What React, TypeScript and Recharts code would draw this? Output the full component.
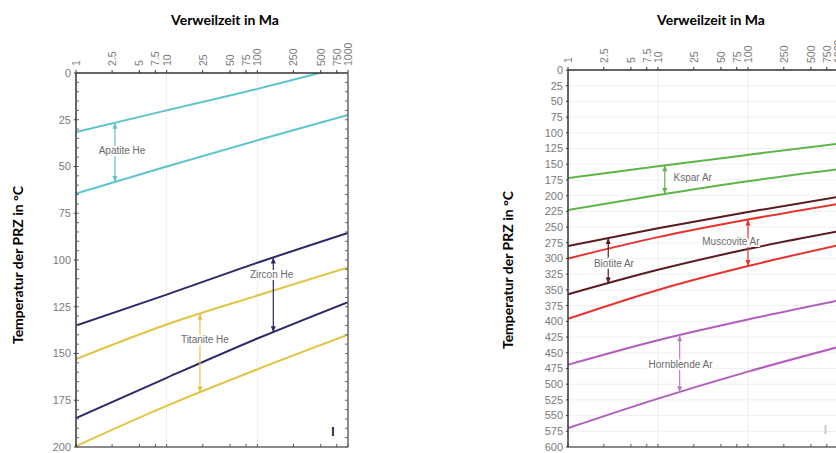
import React from 'react';
import { LineChart, Line, XAxis, YAxis, CartesianGrid, ReferenceDot, ReferenceLine } from 'recharts';

// ---------- shared axis data ----------
const durationTicks = [1, 2.5, 5, 7.5, 10, 25, 50, 75, 100, 250, 500, 750, 1000];
const durations = [1, 10, 100, 1000];

// ---------- left panel (He) ----------
const leftTempTicks = [0, 25, 50, 75, 100, 125, 150, 175, 200];
const leftMinorTicks = [0, 5, 10, 15, 20, 25, 30, 35, 40, 45, 50, 55, 60, 65, 70, 75, 80, 85, 90, 95, 100,
  105, 110, 115, 120, 125, 130, 135, 140, 145, 150, 155, 160, 165, 170, 175, 180, 185, 190, 195, 200];
const apatiteUpper = [31.5, 20, 8.5, -4];
const apatiteLower = [64.5, 50, 36, 22.5];
const zirconUpper = [135, 118.5, 101.5, 85.5];
const zirconLower = [184.5, 163, 142, 122.5];
const titaniteUpper = [153, 134.5, 119, 104];
const titaniteLower = [199.5, 178, 158.5, 140];

const leftNames = ['Apatite He', 'Zircon He', 'Titanite He'];
const leftColors = ['#5cc4cf', '#2b2a6b', '#e2c443'];
const leftArrowX = [2.69, 150, 23.3];
const leftArrowTop = [26.6, 98.7, 128.8];
const leftArrowBottom = [58.3, 138.6, 170.8];
const leftLabelX = [3.22, 143.8, 26.4];
const leftLabelT = [41.2, 107.7, 142.5];

// ---------- right panel (Ar) ----------
const rightTempTicks = [0, 25, 50, 75, 100, 125, 150, 175, 200, 225, 250, 275, 300, 325, 350, 375, 400,
  425, 450, 475, 500, 525, 550, 575, 600];
const ksparUpper = [172, 153, 135, 117.5];
const ksparLower = [223, 199, 177, 158];
const biotiteUpper = [280, 252, 226, 202];
const biotiteLower = [357, 318, 285, 257];
const muscoviteUpper = [300, 266, 238, 213];
const muscoviteLower = [396, 350, 312, 279];
const hornblendeUpper = [469, 430, 397, 367];
const hornblendeLower = [570, 523, 480, 441];

const rightNames = ['Kspar Ar', 'Biotite Ar', 'Muscovite Ar', 'Hornblende Ar'];
const rightColors = ['#5fb547', '#5a1b20', '#e6332f', '#b45cc0'];
const rightArrowColors = ['#5fb547', '#5a1b20', '#e6332f', '#b77fc4'];
const rightArrowX = [11.9, 2.8, 100, 17.4];
const rightArrowTop = [151.6, 267.5, 238, 422];
const rightArrowBottom = [197.3, 339.6, 312, 512.7];
const rightLabelX = [14.9, 3.24, 64.6, 17.8];
const rightLabelT = [171.4, 308.4, 273, 468.7];
const rightLabelAnchor = ['start', 'middle', 'middle', 'middle'];

const frameLeft = [{ x: 1, t: 0 }, { x: 1000, t: 200 }];
const frameRight = [{ x: 1, t: 0 }, { x: 1000, t: 600 }];

const toSeries = (vals: number[]) => durations.map((x, i) => ({ x, t: vals[i] }));

const TICK_FONT = "'Liberation Sans', Arial, sans-serif";

const TopTick = (props: any) => {
  const { x, y, payload } = props;
  return (
    <text
      x={0}
      y={0}
      transform={`translate(${x},${y}) rotate(-90)`}
      textAnchor="start"
      dominantBaseline="central"
      fontSize={10.5}
      fill="#7a7a7a"
      fontFamily={TICK_FONT}
    >
      {payload.value}
    </text>
  );
};

const EmptyTick = () => <g />;

const arrowHead = (color: string) => (props: any) => {
  const { cx, cy, index } = props;
  if (cx == null || cy == null) return <g key={`n${index}`} />;
  const dir = index === 0 ? 1 : -1;
  return (
    <polygon
      key={`a${index}`}
      points={`${cx},${cy} ${cx - 2.5},${cy + 6 * dir} ${cx + 2.5},${cy + 6 * dir}`}
      fill={color}
    />
  );
};

const labelShape = (text: string, anchor: string) => (props: any) => (
  <text
    x={props.cx}
    y={props.cy}
    textAnchor={anchor as any}
    dominantBaseline="central"
    fontSize={10}
    fill="#6a6a6a"
    fontFamily={TICK_FONT}
    stroke="#ffffff"
    strokeWidth={4}
    paintOrder="stroke"
  >
    {text}
  </text>
);

const markShape = (color: string) => (props: any) => (
  <text
    x={props.cx}
    y={props.cy}
    textAnchor="middle"
    dominantBaseline="central"
    fontSize={12}
    fontWeight="bold"
    fill={color}
    fontFamily={TICK_FONT}
  >
    I
  </text>
);

const titleStyle: React.CSSProperties = {
  position: 'absolute',
  fontFamily: "Lato, 'Open Sans', sans-serif",
  fontWeight: 'bold',
  fontSize: 14,
  color: '#000',
  whiteSpace: 'nowrap',
  transform: 'translate(-50%, -50%)',
};

const yLabelStyle: React.CSSProperties = {
  ...titleStyle,
  transform: 'translate(-50%, -50%) rotate(-90deg)',
};

const LeftPanel = () => (
  <LineChart width={418} height={453} margin={{ top: 33, right: 70, bottom: 6, left: 46 }}>
    <XAxis
      dataKey="x"
      type="number"
      scale="log"
      domain={[1, 1000]}
      allowDataOverflow
      orientation="top"
      ticks={durationTicks}
      interval={0}
      height={40}
      tickSize={3}
      tickMargin={4}
      tick={<TopTick />}
      axisLine={{ stroke: '#333', strokeWidth: 1.5 }}
      tickLine={{ stroke: '#333' }}
    />
    <XAxis
      xAxisId="b"
      dataKey="x"
      type="number"
      scale="log"
      domain={[1, 1000]}
      allowDataOverflow
      orientation="bottom"
      mirror
      ticks={durationTicks}
      interval={0}
      tickSize={3}
      tick={EmptyTick}
      axisLine={{ stroke: '#666', strokeWidth: 1.5 }}
      tickLine={{ stroke: '#555' }}
    />
    <YAxis
      type="number"
      reversed
      domain={[0, 200]}
      allowDataOverflow
      ticks={leftTempTicks}
      interval={0}
      width={30}
      tickSize={2}
      tickMargin={3}
      tick={{ fontSize: 11, fill: '#7a7a7a', fontFamily: TICK_FONT }}
      axisLine={{ stroke: '#333', strokeWidth: 1.5 }}
      tickLine={{ stroke: '#333' }}
    />
    <YAxis
      yAxisId="lm"
      type="number"
      reversed
      domain={[0, 200]}
      allowDataOverflow
      orientation="left"
      mirror
      ticks={leftMinorTicks}
      interval={0}
      tickSize={3}
      tick={EmptyTick}
      axisLine={false}
      tickLine={{ stroke: '#666' }}
    />
    <YAxis
      yAxisId="r"
      type="number"
      reversed
      domain={[0, 200]}
      allowDataOverflow
      orientation="right"
      mirror
      ticks={leftMinorTicks}
      interval={0}
      tickSize={3}
      tick={EmptyTick}
      axisLine={{ stroke: '#666', strokeWidth: 1.5 }}
      tickLine={{ stroke: '#666' }}
    />
    <ReferenceLine x={10} stroke="#ececec" strokeWidth={1} />
    <ReferenceLine x={100} stroke="#ececec" strokeWidth={1} />
    <Line data={frameLeft} xAxisId="b" yAxisId="r" dataKey="t" stroke="none" dot={false} isAnimationActive={false} />
    <Line data={frameLeft} xAxisId="b" yAxisId="lm" dataKey="t" stroke="none" dot={false} isAnimationActive={false} />

    {[apatiteUpper, apatiteLower].map((s, i) => (
      <Line key={`ap${i}`} data={toSeries(s)} dataKey="t" type="monotone" stroke={leftColors[0]} strokeWidth={2} dot={false} isAnimationActive={false} />
    ))}
    {[zirconUpper, zirconLower].map((s, i) => (
      <Line key={`zr${i}`} data={toSeries(s)} dataKey="t" type="monotone" stroke={leftColors[1]} strokeWidth={2} dot={false} isAnimationActive={false} />
    ))}
    {[titaniteUpper, titaniteLower].map((s, i) => (
      <Line key={`ti${i}`} data={toSeries(s)} dataKey="t" type="monotone" stroke={leftColors[2]} strokeWidth={2} dot={false} isAnimationActive={false} />
    ))}

    {leftNames.map((n, i) => (
      <Line
        key={`arr${n}`}
        data={[{ x: leftArrowX[i], t: leftArrowTop[i] }, { x: leftArrowX[i], t: leftArrowBottom[i] }]}
        dataKey="t"
        type="linear"
        stroke={leftColors[i]}
        strokeWidth={1.2}
        dot={arrowHead(leftColors[i])}
        isAnimationActive={false}
      />
    ))}
    {leftNames.map((n, i) => (
      <ReferenceDot key={`lab${n}`} x={leftLabelX[i]} y={leftLabelT[i]} r={0} shape={labelShape(n, 'middle')} />
    ))}
    <ReferenceDot x={681} y={192} r={0} shape={markShape('#1a1a1a')} />
  </LineChart>
);

const RightPanel = () => (
  <LineChart width={430} height={453} margin={{ top: 30, right: 10, bottom: 6, left: 120 }}>
    <CartesianGrid vertical={false} stroke="#efefef" />
    <XAxis
      dataKey="x"
      type="number"
      scale="log"
      domain={[1, 1000]}
      allowDataOverflow
      orientation="top"
      ticks={durationTicks}
      interval={0}
      height={40}
      tickSize={3}
      tickMargin={4}
      tick={<TopTick />}
      axisLine={{ stroke: '#333', strokeWidth: 1.5 }}
      tickLine={{ stroke: '#333' }}
    />
    <XAxis
      xAxisId="b"
      dataKey="x"
      type="number"
      scale="log"
      domain={[1, 1000]}
      allowDataOverflow
      orientation="bottom"
      mirror
      ticks={durationTicks}
      interval={0}
      tickSize={3}
      tick={EmptyTick}
      axisLine={{ stroke: '#666', strokeWidth: 1.5 }}
      tickLine={{ stroke: '#555' }}
    />
    <YAxis
      type="number"
      reversed
      domain={[0, 600]}
      allowDataOverflow
      ticks={rightTempTicks}
      interval={0}
      width={30}
      tickSize={2}
      tickMargin={3}
      tick={{ fontSize: 11, fill: '#7a7a7a', fontFamily: TICK_FONT }}
      axisLine={{ stroke: '#333', strokeWidth: 1.5 }}
      tickLine={{ stroke: '#333' }}
    />
    <ReferenceLine x={10} stroke="#ececec" strokeWidth={1} />
    <ReferenceLine x={100} stroke="#ececec" strokeWidth={1} />
    <Line data={frameRight} xAxisId="b" dataKey="t" stroke="none" dot={false} isAnimationActive={false} />

    {[ksparUpper, ksparLower].map((s, i) => (
      <Line key={`ks${i}`} data={toSeries(s)} dataKey="t" type="monotone" stroke={rightColors[0]} strokeWidth={2} dot={false} isAnimationActive={false} />
    ))}
    {[muscoviteUpper, muscoviteLower].map((s, i) => (
      <Line key={`mu${i}`} data={toSeries(s)} dataKey="t" type="monotone" stroke={rightColors[2]} strokeWidth={2} dot={false} isAnimationActive={false} />
    ))}
    {[biotiteUpper, biotiteLower].map((s, i) => (
      <Line key={`bi${i}`} data={toSeries(s)} dataKey="t" type="monotone" stroke={rightColors[1]} strokeWidth={2} dot={false} isAnimationActive={false} />
    ))}
    {[hornblendeUpper, hornblendeLower].map((s, i) => (
      <Line key={`hb${i}`} data={toSeries(s)} dataKey="t" type="monotone" stroke={rightColors[3]} strokeWidth={2} dot={false} isAnimationActive={false} />
    ))}

    {rightNames.map((n, i) => (
      <Line
        key={`arr${n}`}
        data={[{ x: rightArrowX[i], t: rightArrowTop[i] }, { x: rightArrowX[i], t: rightArrowBottom[i] }]}
        dataKey="t"
        type="linear"
        stroke={rightArrowColors[i]}
        strokeWidth={1.2}
        dot={arrowHead(rightArrowColors[i])}
        isAnimationActive={false}
      />
    ))}
    {rightNames.map((n, i) => (
      <ReferenceDot key={`lab${n}`} x={rightLabelX[i]} y={rightLabelT[i]} r={0} shape={labelShape(n, rightLabelAnchor[i])} />
    ))}
    <ReferenceDot x={725} y={573} r={0} shape={markShape('#c8c8c8')} />
  </LineChart>
);

export default function App() {
  return (
    <div style={{ position: 'absolute', left: 0, top: 0, width: 836, height: 453, overflow: 'hidden', background: '#fff' }}>
      <div style={{ position: 'absolute', left: 0, top: 0 }}>
        <LeftPanel />
      </div>
      <div style={{ position: 'absolute', left: 418, top: 0 }}>
        <RightPanel />
      </div>
      <div style={{ ...titleStyle, left: 225, top: 19 }}>Verweilzeit in Ma</div>
      <div style={{ ...titleStyle, left: 711, top: 19 }}>Verweilzeit in Ma</div>
      <div style={{ ...yLabelStyle, left: 17, top: 265 }}>Temperatur der PRZ in °C</div>
      <div style={{ ...yLabelStyle, left: 507, top: 270 }}>Temperatur der PRZ in °C</div>
    </div>
  );
}
